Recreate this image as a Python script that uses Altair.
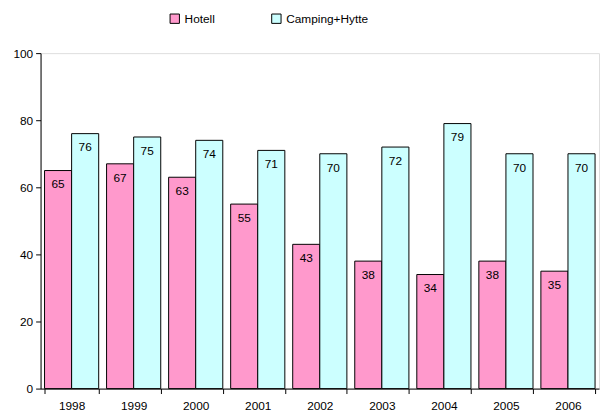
import altair as alt
import pandas as pd

years = ["1998", "1999", "2000", "2001", "2002", "2003", "2004", "2005", "2006"]
hotell = [65, 67, 63, 55, 43, 38, 34, 38, 35]
camping = [76, 75, 74, 71, 70, 72, 79, 70, 70]
series = ["Hotell", "Camping+Hytte"]
colors = ["#FF99CC", "#CCFFFF"]

rows = []
for i, y in enumerate(years):
    rows.append({"year": y, "serie": series[0], "value": hotell[i]})
    rows.append({"year": y, "serie": series[1], "value": camping[i]})
df = pd.DataFrame(rows)

FONT = "Liberation Sans"

x = alt.X("year:N", title=None, sort=years,
          scale=alt.Scale(paddingInner=0.127, paddingOuter=0.064),
          axis=alt.Axis(labelAngle=0, tickBand="extent", domainColor="black",
                        tickColor="black", labelColor="black", labelFont=FONT,
                        labelFontSize=12, labelPadding=7, tickSize=5))
xo = alt.XOffset("serie:N", sort=series, scale=alt.Scale(paddingInner=0, paddingOuter=0))
y = alt.Y("value:Q", title=None, scale=alt.Scale(domain=[0, 100], nice=False),
          axis=alt.Axis(values=[0, 20, 40, 60, 80, 100], grid=False, domainColor="black",
                        tickColor="black", labelColor="black", labelFont=FONT,
                        labelFontSize=12, tickSize=5, labelPadding=3))

bars = alt.Chart(df).mark_bar(stroke="black", strokeWidth=1).encode(
    x=x, xOffset=xo, y=y,
    color=alt.Color("serie:N", sort=series,
                    scale=alt.Scale(domain=series, range=colors),
                    legend=alt.Legend(title=None, orient="none", legendX=130, legendY=-41,
                                      direction="horizontal", symbolType="square",
                                      symbolStrokeColor="black", symbolStrokeWidth=1,
                                      symbolSize=90, labelFont=FONT, labelFontSize=12,
                                      labelColor="black", columnPadding=55,
                                      symbolOpacity=1)),
)

labels = alt.Chart(df).mark_text(baseline="middle", dy=14, font=FONT, fontSize=12,
                                 color="black").encode(
    x=x, xOffset=xo, y=y, text="value:Q")

chart = alt.layer(bars, labels).properties(
    width=566, height=340,
    autosize=alt.AutoSizeParams(type="none"),
    padding={"left": 33, "top": 43, "right": 2, "bottom": 21},
).configure_view(stroke=None).configure(background="white")

chart.save("out.html", embed_options={"renderer": "svg", "actions": False})
